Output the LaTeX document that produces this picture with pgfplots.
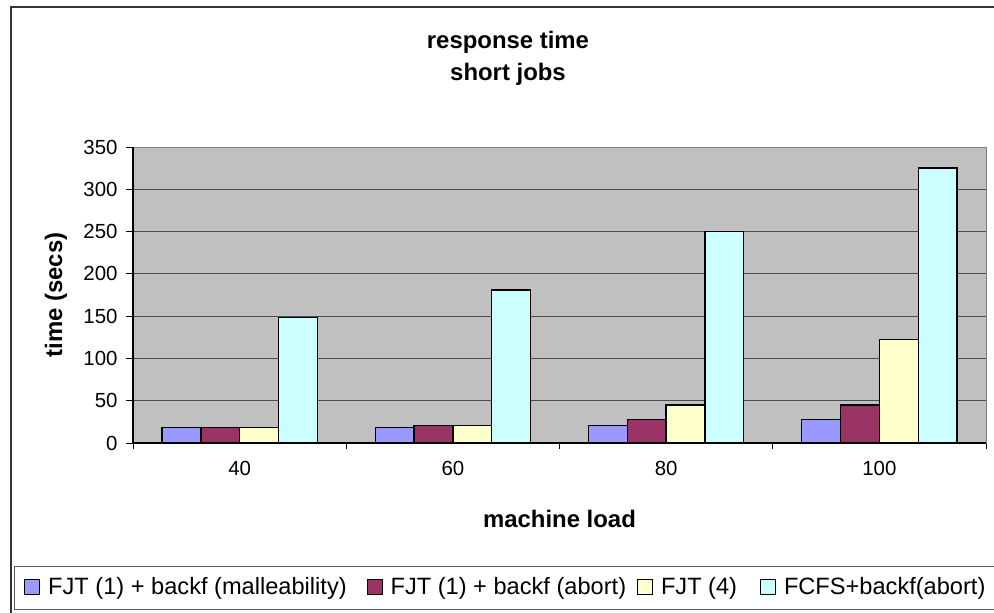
\documentclass[border=0pt]{standalone}
\usepackage{pgfplots}
\pgfplotsset{compat=1.18}
\usepackage{fontspec}
\setmainfont{Liberation Sans}
\definecolor{plotbg}{HTML}{C0C0C0}
\definecolor{sblue}{HTML}{9999FF}
\definecolor{smaroon}{HTML}{993366}
\definecolor{syellow}{HTML}{FFFFCC}
\definecolor{scyan}{HTML}{CCFFFF}
\begin{document}
\begin{tikzpicture}
\path[use as bounding box] (0bp,0bp) rectangle (994bp,-613bp);
\draw[line width=1.3bp, black!80] (11bp,-7bp) rectangle (1010bp,-630bp);
\draw[line width=1bp, black!65] (14bp,-566bp) rectangle (1005bp,-609bp);
\node[font=\fontsize{24}{28}\selectfont\bfseries, anchor=base] at (508bp,-48bp) {response time};
\node[font=\fontsize{24}{28}\selectfont\bfseries, anchor=base] at (508bp,-80bp) {short jobs};
\begin{axis}[
  at={(133bp,-443bp)}, anchor=south west,
  scale only axis, width=853bp, height=296bp,
  xmin=-0.5, xmax=3.5, ymin=0, ymax=350,
  ytick={0,50,...,350},
  xtick={0,1,2,3}, xticklabels={40,60,80,100},
  minor xtick={-0.5,0.5,1.5,2.5,3.5},
  xtick pos=bottom, ytick pos=left,
  every major x tick/.append style={draw=none},
  tick align=outside, major tick length=7bp, minor tick length=6bp,
  tick style={black, line width=0.8bp},
  ymajorgrids, grid style={black!70, line width=0.8bp},
  axis background/.style={fill=plotbg},
  axis line style={black!50, line width=1bp},
  ticklabel style={font=\fontsize{20.5}{24}\selectfont},
  yticklabel style={xshift=-5bp},
  xticklabel style={yshift=-8bp},
  /pgf/number format/assume math mode=true,
  xlabel={machine load}, ylabel={time (secs)},
  label style={font=\fontsize{24}{28}\selectfont\bfseries},
  xlabel style={at={(axis description cs:0.5,-0.2838)}, anchor=base},
  ylabel style={at={(axis description cs:-0.0832,0.5)}, anchor=base, rotate=0},
  ybar, bar width=0.1818,
  legend columns=4,
  legend cell align=left,
  legend image code/.code={\draw[#1, line width=0.9bp] (0bp,-7.5bp) rectangle (15bp,7.5bp);},
  legend style={at={(axis description cs:-0.1274,-0.4848)}, anchor=west,
    draw=none, fill=none, inner sep=0pt, outer sep=0pt,
    font=\fontsize{23.7}{27}\selectfont,
    nodes={inner sep=0pt},
    /tikz/every odd column/.append style={column sep=8bp},
    /tikz/every even column/.append style={column sep=11bp}},
  after end axis/.code={\draw[black, line width=1.2bp] (rel axis cs:0,1) -- (rel axis cs:0,0) -- (rel axis cs:1,0);},
]
\addplot[fill=sblue, draw=black, line width=1.3bp, bar shift=-0.2727] coordinates {(0,18) (1,18) (2,21) (3,28)};
\addlegendentry{FJT (1) + backf (malleability)\kern9bp\null}
\addplot[fill=smaroon, draw=black, line width=1.3bp, bar shift=-0.0909] coordinates {(0,18) (1,21) (2,28) (3,45)};
\addlegendentry{FJT (1) + backf (abort)}
\addplot[fill=syellow, draw=black, line width=1.3bp, bar shift=0.0909] coordinates {(0,18) (1,21) (2,45) (3,122)};
\addlegendentry{FJT (4)\kern12bp\null}
\addplot[fill=scyan, draw=black, line width=1.3bp, bar shift=0.2727] coordinates {(0,148) (1,181) (2,250) (3,325)};
\addlegendentry{FCFS+backf(abort)}
\end{axis}
\end{tikzpicture}
\end{document}
